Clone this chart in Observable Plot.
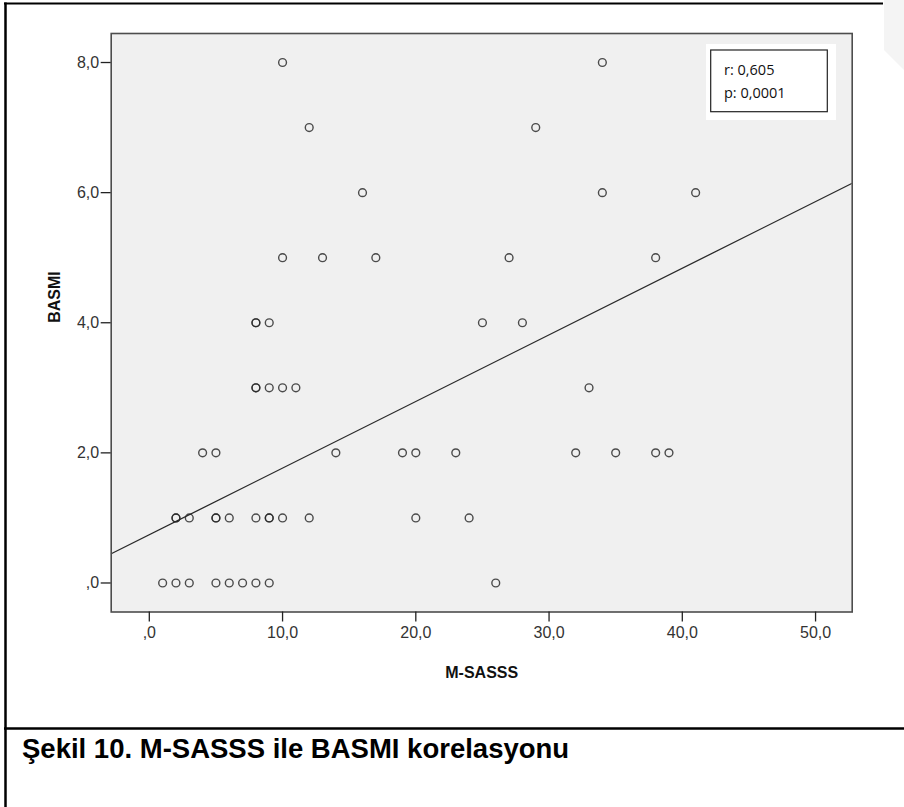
<!DOCTYPE html>
<html>
<head>
<meta charset="utf-8">
<script src="https://cdn.jsdelivr.net/npm/d3@7"></script>
<script src="https://cdn.jsdelivr.net/npm/@observablehq/plot@0.6"></script>
<style>
  html, body { margin: 0; padding: 0; background: #fff; }
  #chart { width: 904px; height: 807px; overflow: hidden; }
</style>
</head>
<body>
<div id="chart"></div>
<script>
// ---- data ----
const msasss = [
  10, 34,
  12, 29,
  16, 34, 41,
  10, 13, 17, 27, 38,
  8, 8, 9, 25, 28,
  8, 8, 9, 10, 11, 33,
  4, 5, 14, 19, 20, 23, 32, 35, 38, 39,
  2, 2, 3, 5, 5, 6, 8, 9, 9, 10, 12, 20, 24,
  1, 2, 3, 5, 6, 7, 8, 9, 26
];
const basmi = [
  8, 8,
  7, 7,
  6, 6, 6,
  5, 5, 5, 5, 5,
  4, 4, 4, 4, 4,
  3, 3, 3, 3, 3, 3,
  2, 2, 2, 2, 2, 2, 2, 2, 2, 2,
  1, 1, 1, 1, 1, 1, 1, 1, 1, 1, 1, 1, 1,
  0, 0, 0, 0, 0, 0, 0, 0, 0
];
const xTicks = [0, 10, 20, 30, 40, 50];
const xTickLabels = [",0", "10,0", "20,0", "30,0", "40,0", "50,0"];
const yTicks = [0, 2, 4, 6, 8];
const yTickLabels = [",0", "2,0", "4,0", "6,0", "8,0"];
const xDomain = [-2.86, 52.75];
const yDomain = [-0.446, 8.446];
const fitIntercept = 0.742;
const fitSlope = 0.1024;
const statLines = ["r: 0,605", "p: 0,0001"];
const xLabel = "M-SASSS";
const yLabel = "BASMI";
const captionText = "Şekil 10. M-SASSS ile BASMI korelasyonu";

// ---- build tables ----
const points = msasss.map((x, i) => ({x, y: basmi[i]}));
const fitLine = xDomain.map(x => ({x, y: fitIntercept + fitSlope * x}));

const W = 904, H = 807;
const mL = 110.7, mR = W - 851.7, mT = 33, mB = H - 611.5;

const tickFont = "'Liberation Sans', Arial, sans-serif";

const chart = Plot.plot({
  width: W,
  height: H,
  marginLeft: mL,
  marginRight: mR,
  marginTop: mT,
  marginBottom: mB,
  style: {background: "#fff", fontFamily: tickFont, color: "#000", overflow: "visible"},
  x: {domain: xDomain, label: null},
  y: {domain: yDomain, label: null},
  marks: [
    Plot.frame({fill: "#f0f0f0", stroke: "none"}),
    Plot.line(fitLine, {x: "x", y: "y", stroke: "#2a2a2a", strokeWidth: 1.3, clip: true}),
    Plot.dot(points, {x: "x", y: "y", r: 3.9, stroke: "#262626", strokeWidth: 1.4, strokeOpacity: 0.82, fill: "none"}),
    Plot.frame({stroke: "#4d4d4d", strokeWidth: 1.6}),
    Plot.axisX({ticks: xTicks, tickFormat: (d) => xTickLabels[xTicks.indexOf(d)], tickSize: 10, tickPadding: 5, fontSize: 16, stroke: "#222", strokeWidth: 1.3, label: null, fill: "#333"}),
    Plot.axisY({ticks: yTicks, tickFormat: (d) => yTickLabels[yTicks.indexOf(d)], tickSize: 10, tickPadding: 2, fontSize: 16, stroke: "#222", strokeWidth: 1.3, label: null, fill: "#333"}),
    Plot.text([xLabel], {frameAnchor: "bottom", dy: 61, fontSize: 16, fontWeight: "bold", fill: "#111", lineAnchor: "middle"}),
    Plot.text([yLabel], {frameAnchor: "left", dx: -56, rotate: -90, fontSize: 16, fontWeight: "bold", fill: "#111", lineAnchor: "middle"})
  ]
});

document.getElementById("chart").appendChild(chart);

// ---- decorations: stats box, figure borders, caption ----
const svg = d3.select(chart);
const g = svg.append("g").attr("text-anchor", "start");
g.append("rect").attr("x", 706).attr("y", 44).attr("width", 130).attr("height", 76).attr("fill", "#fff");
g.append("rect").attr("x", 710.7).attr("y", 50).attr("width", 116.6).attr("height", 61.7)
  .attr("fill", "#fff").attr("stroke", "#222").attr("stroke-width", 1.2);
g.selectAll("text.stat").data(statLines).join("text")
  .attr("class", "stat")
  .attr("text-anchor", "start")
  .attr("x", 724).attr("y", (d, i) => 75 + i * 23)
  .attr("font-family", "'Open Sans', sans-serif").attr("font-size", 14.5).attr("fill", "#111")
  .text(d => d);

// faint background shape at right edge (as in reference)
g.append("path").attr("d", "M884,0 L904,0 L904,70 L884,50 Z").attr("fill", "#f4f4f4");

g.append("line").attr("x1", 4).attr("x2", 883).attr("y1", 3.5).attr("y2", 3.5).attr("stroke", "#000").attr("stroke-width", 2.2);
g.append("line").attr("x1", 5.5).attr("x2", 5.5).attr("y1", 2.5).attr("y2", H).attr("stroke", "#000").attr("stroke-width", 2.5);
g.append("line").attr("x1", 4).attr("x2", W).attr("y1", 728.5).attr("y2", 728.5).attr("stroke", "#000").attr("stroke-width", 2.6);
g.append("text").attr("x", 22).attr("y", 758)
  .attr("text-anchor", "start")
  .attr("font-family", "'Liberation Sans', Arial, sans-serif").attr("font-weight", "bold")
  .attr("font-size", 27.5).attr("fill", "#000").text(captionText);
</script>
</body>
</html>
